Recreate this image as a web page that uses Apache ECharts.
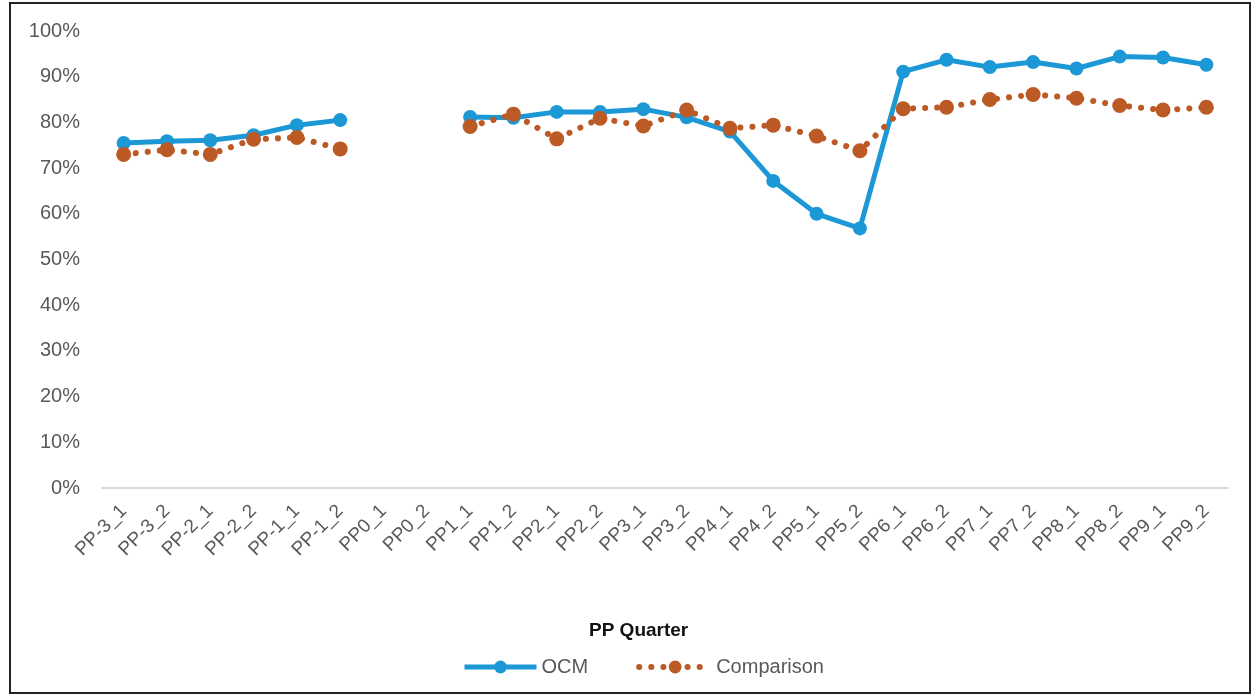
<!DOCTYPE html>
<html>
<head>
<meta charset="utf-8">
<script src="https://cdn.jsdelivr.net/npm/echarts@6/dist/echarts.min.js"></script>
<style>
  html, body { margin: 0; padding: 0; background: #fff; }
  #chart { width: 1258px; height: 698px; }
</style>
</head>
<body>
<div id="chart"></div>
<script>
  const quarters = [
    "PP-3_1", "PP-3_2", "PP-2_1", "PP-2_2", "PP-1_1", "PP-1_2", "PP0_1", "PP0_2",
    "PP1_1", "PP1_2", "PP2_1", "PP2_2", "PP3_1", "PP3_2", "PP4_1", "PP4_2",
    "PP5_1", "PP5_2", "PP6_1", "PP6_2", "PP7_1", "PP7_2", "PP8_1", "PP8_2",
    "PP9_1", "PP9_2",
  ];
  const ocm = [
    75.5, 75.9, 76.1, 77.2, 79.4, 80.5, null, null,
    81.2, 81.0, 82.3, 82.3, 82.9, 81.1, 78.0, 67.2,
    60.0, 56.8, 91.1, 93.7, 92.1, 93.2, 91.8, 94.4,
    94.2, 92.6,
  ];
  const comparison = [
    73.0, 74.0, 73.0, 76.3, 76.7, 74.2, null, null,
    79.1, 81.8, 76.4, 80.9, 79.2, 82.7, 78.7, 79.4,
    77.0, 73.8, 83.0, 83.3, 85.0, 86.1, 85.3, 83.7,
    82.7, 83.3,
  ];
  const yTicks = [0, 100, 10]; // min, max, interval (%)

  const colors = { ocm: "#1b98d5", comparison: "#bb5a25", text: "#595959", axis: "#d9d9d9" };
  const font = "'Liberation Sans', Arial, sans-serif";
  const dots = [0.1, 12];

  const chart = echarts.init(document.getElementById("chart"));
  chart.setOption({
    backgroundColor: "#fff",
    animation: false,
    textStyle: { fontFamily: font },
    title: {
      text: "PP Quarter",
      left: 584,
      top: 616,
      textStyle: { fontSize: 19, fontWeight: "bold", color: "#111", fontFamily: font },
    },
    legend: {
      left: 457,
      top: 652,
      itemWidth: 72,
      itemHeight: 16,
      itemGap: 48,
      textStyle: { fontSize: 20, color: colors.text, fontFamily: font },
      data: [
        { name: "OCM", lineStyle: { width: 5 } },
        { name: "Comparison", lineStyle: { width: 6, type: dots, cap: "round" } },
      ],
    },
    grid: { left: 102, right: 30, top: 31, bottom: 210 },
    xAxis: {
      type: "category",
      data: quarters,
      boundaryGap: true,
      axisLine: { lineStyle: { color: colors.axis, width: 2 } },
      axisTick: { alignWithLabel: true, length: 5, lineStyle: { color: colors.axis, width: 1.5 } },
      axisLabel: { rotate: 45, fontSize: 19, color: colors.text, margin: 20, interval: 0 },
      splitLine: { show: false },
    },
    yAxis: {
      type: "value",
      min: yTicks[0],
      max: yTicks[1],
      interval: yTicks[2],
      axisLine: { show: false },
      axisTick: { show: false },
      splitLine: { show: false },
      axisLabel: { fontSize: 20, color: colors.text, margin: 22, formatter: (v) => `${v}%` },
    },
    series: [
      {
        name: "OCM",
        type: "line",
        data: ocm,
        connectNulls: false,
        symbol: "circle",
        symbolSize: 14,
        itemStyle: { color: colors.ocm },
        lineStyle: { color: colors.ocm, width: 5 },
        z: 2,
      },
      {
        name: "Comparison",
        type: "line",
        data: comparison,
        connectNulls: false,
        symbol: "circle",
        symbolSize: 15,
        itemStyle: { color: colors.comparison },
        lineStyle: { color: colors.comparison, width: 6, type: dots, cap: "round" },
        z: 3,
      },
    ],
    graphic: [
      {
        type: "rect",
        shape: { x: 10, y: 3, width: 1240, height: 690 },
        style: { fill: "none", stroke: "#222", lineWidth: 2 },
        silent: true,
      },
    ],
  });
</script>
</body>
</html>
